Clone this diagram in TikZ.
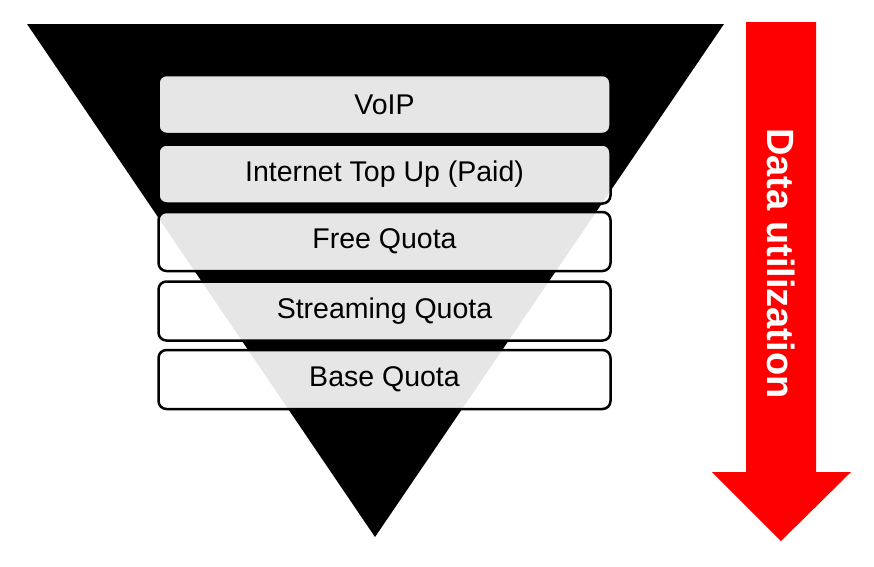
\documentclass[tikz,border=0pt]{standalone}
\usepackage{fontspec}
\setmainfont{Liberation Sans}
\begin{document}
\begin{tikzpicture}[x=1pt,y=-1pt,
  qbox/.style={draw=black, line width=2.5pt, rounded corners=8pt, fill=white,
    fill opacity=0.9, text opacity=1, minimum width=452pt, minimum height=59pt,
    inner sep=0pt, font=\fontsize{28.5}{31}\selectfont},
  funnel/.style={fill=black},
  bigarrow/.style={fill={rgb,255:red,255;green,0;blue,0}}]
\useasboundingbox (0,0) rectangle (874,566);
\fill[funnel] (27,24) -- (724,24) -- (375,537) -- cycle;
\node[qbox] (voip) at (384.5,104.5) {VoIP};
\node[qbox] (topup) at (384.5,174) {Internet Top Up (Paid)};
\node[qbox] (free) at (384.5,241.5) {Free Quota};
\node[qbox] (stream) at (384.5,311) {Streaming Quota};
\node[qbox] (base) at (384.5,379.5) {Base Quota};
\fill[bigarrow] (746,22) -- (816,22) -- (816,472) -- (851,472) -- (781,541)
  -- (712,472) -- (746,472) -- cycle;
\node[rotate=-90, text=white, font=\fontsize{38}{40}\selectfont\bfseries] (lbl) at (781,263.5) {Data utilization};
\end{tikzpicture}
\end{document}
